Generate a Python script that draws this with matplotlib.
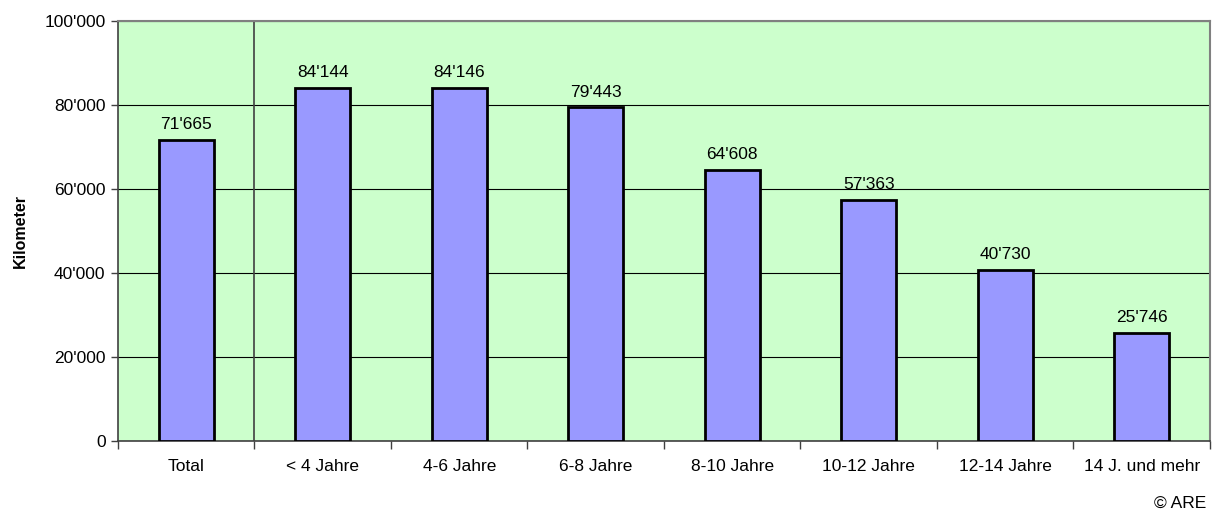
import numpy as np
import matplotlib.pyplot as plt
from matplotlib.ticker import FuncFormatter

plt.rcParams['font.family'] = ['Liberation Sans', 'DejaVu Sans']

categories = ['Total', '< 4 Jahre', '4-6 Jahre', '6-8 Jahre', '8-10 Jahre',
              '10-12 Jahre', '12-14 Jahre', '14 J. und mehr']
values = [71665, 84144, 84146, 79443, 64608, 57363, 40730, 25746]


def swiss(v, pos=None):
    return '{:,.0f}'.format(v).replace(',', "'")


fig = plt.figure(figsize=(12.14, 5.11), dpi=100)
ax = fig.add_axes([0.0972, 0.137, 0.8995, 0.822])
ax.set_facecolor('#CCFFCC')

x = np.arange(len(categories))
ax.bar(x, values, width=0.4, color='#9999FF', edgecolor='black', linewidth=2, zorder=3)

for xi, v in zip(x, values):
    ax.text(xi, v + 1800, swiss(v), ha='center', va='bottom', fontsize=12.5, zorder=4)

ax.set_xlim(-0.5, len(categories) - 0.5)
ax.set_ylim(0, 100000)
ax.set_yticks(np.arange(0, 100001, 20000))
ax.yaxis.set_major_formatter(FuncFormatter(swiss))
ax.yaxis.grid(True, color='black', linewidth=0.8, zorder=1)
ax.axvline(0.5, color='#404040', linewidth=1.2, zorder=2)

ax.set_xticks(x)
ax.set_xticklabels(categories)
ax.set_xticks(np.arange(-0.5, len(categories)), minor=True)
ax.tick_params(axis='x', which='major', length=0, pad=13, labelsize=12.5)
ax.tick_params(axis='x', which='minor', length=6, width=1, color='#404040', direction='out')
ax.tick_params(axis='y', length=5, width=1, color='#404040', labelsize=12.5, pad=4)

for s in ['left', 'bottom']:
    ax.spines[s].set_color('#404040')
    ax.spines[s].set_linewidth(1.2)
for s in ['top', 'right']:
    ax.spines[s].set_color('#808080')
    ax.spines[s].set_linewidth(1.5)

ax.set_ylabel('Kilometer', fontweight='bold', fontsize=11.5, labelpad=12)
fig.text(0.972, 0.0, '© ARE', ha='center', va='bottom', fontsize=12.5)

fig.savefig('out.png', dpi=100)
